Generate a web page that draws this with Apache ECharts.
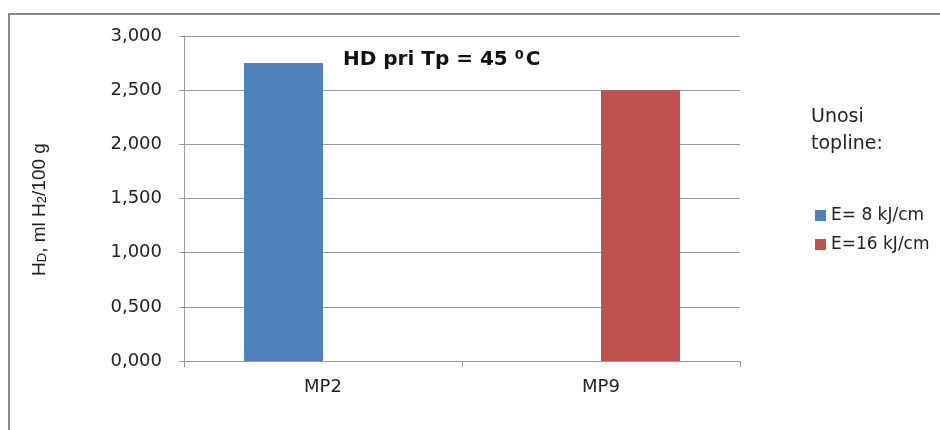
<!DOCTYPE html>
<html>
<head>
<meta charset="utf-8">
<script src="https://cdn.jsdelivr.net/npm/echarts@6/dist/echarts.min.js"></script>
<style>html,body{margin:0;padding:0;background:#fff}#c{width:940px;height:430px}</style>
</head>
<body>
<div id="c"></div>
<script>
var categories = ['MP2', 'MP9'];
var seriesNames = ['E= 8 kJ/cm', 'E=16 kJ/cm'];
var valuesE8 = [2.75, null];
var valuesE16 = [null, 2.5];
var yTicks = [0, 0.5, 1, 1.5, 2, 2.5, 3];

var chart = echarts.init(document.getElementById('c'));
var FONT = 'DejaVu Sans';
chart.setOption({
  backgroundColor: '#fff',
  animation: false,
  graphic: [{
    type: 'rect', shape: { x: 9, y: 14, width: 960, height: 460 },
    style: { fill: 'none', stroke: '#888', lineWidth: 2 }, z: -1
  }, {
    type: 'text', left: 811, top: 104,
    style: { text: 'Unosi\ntopline:', font: '19px "DejaVu Sans"', fill: '#222', lineHeight: 27 }
  }],
  title: {
    left: 343, top: 49, padding: 0,
    text: '{a|HD pri Tp = 45 }{s|0}{a|C}',
    textStyle: {
      rich: {
        a: { fontFamily: FONT, fontWeight: 'bold', fontSize: 20, color: '#111' },
        s: { fontFamily: FONT, fontWeight: 'bold', fontSize: 13, color: '#111', verticalAlign: 'top', padding: [0, 2, 9, 0] }
      }
    }
  },
  legend: {
    orient: 'vertical', left: 815, top: 207, padding: 0,
    itemWidth: 11, itemHeight: 11, itemGap: 12, icon: 'rect',
    textStyle: { fontFamily: FONT, fontSize: 17, color: '#222', padding: [0, 0, 0, 0] },
    data: seriesNames
  },
  grid: { left: 184, right: 200, top: 36, bottom: 69 },
  xAxis: {
    type: 'category', data: categories,
    axisLine: { lineStyle: { color: '#999', width: 1 } },
    axisTick: { show: true, length: 6, lineStyle: { color: '#999' } },
    axisLabel: { fontFamily: FONT, fontSize: 18, color: '#222', margin: 17 }
  },
  yAxis: {
    type: 'value', min: 0, max: 3, interval: 0.5,
    name: '{h|H}{d|D}{h|, ml H}{d|2}{h|/100 g}',
    nameLocation: 'middle', nameGap: 135, nameRotate: 90,
    nameTextStyle: {
      padding: [0, 22, 0, 0],
      rich: {
        h: { fontFamily: 'Liberation Sans', fontSize: 19, color: '#222' },
        d: { fontFamily: 'Liberation Sans', fontSize: 13, color: '#222', verticalAlign: 'bottom', padding: [4, 0, 0, 0] }
      }
    },
    axisLine: { show: true, lineStyle: { color: '#999', width: 1 } },
    axisTick: { show: true, length: 5, lineStyle: { color: '#999' } },
    splitLine: { lineStyle: { color: '#999', width: 1 } },
    axisLabel: {
      fontFamily: FONT, fontSize: 18, color: '#222', margin: 22,
      formatter: function (v) { return v.toFixed(3).replace('.', ','); }
    }
  },
  series: [{
    name: seriesNames[0], type: 'bar', data: valuesE8, barWidth: 79, barGap: '0%',
    itemStyle: { color: '#4F81BD' }
  }, {
    name: seriesNames[1], type: 'bar', data: valuesE16, barWidth: 79,
    itemStyle: { color: '#C0504D' }
  }]
});
</script>
</body>
</html>
